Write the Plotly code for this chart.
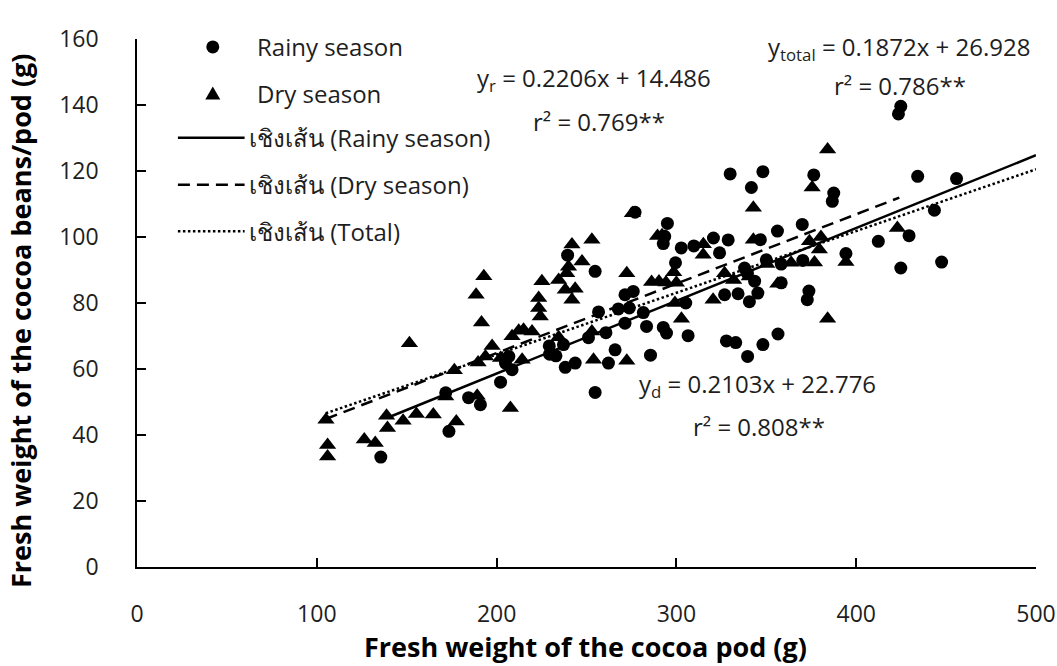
import plotly.graph_objects as go

# Fresh pod weight (g) vs fresh bean weight per pod (g), rainy season
rainy_x = [135.6, 171.7, 173.5, 184.4, 191.0, 202.2, 204.9, 206.8, 208.6, 229.3,
           229.5, 233.0, 237.2, 238.2, 243.7, 239.5, 251.1, 254.8, 254.8, 256.7,
           260.8, 262.2, 265.9, 267.7, 271.4, 276.0, 273.8, 271.4, 277.0, 281.6,
           283.4, 285.6, 292.7, 294.5, 295.0, 293.5, 292.7, 299.5, 302.7, 309.7,
           305.2, 306.5, 320.6, 324.0, 328.8, 326.8, 334.3, 327.8, 333.0, 329.9,
           337.9, 339.5, 339.6, 340.6, 341.7, 343.5, 345.3, 346.7, 348.1, 348.1,
           350.0, 356.5, 356.2, 358.3, 358.3, 370.0, 370.3, 373.7, 372.8, 376.4,
           387.5, 386.7, 394.3, 412.3, 423.5, 424.8, 424.8, 429.4, 434.2, 443.5,
           447.5, 455.8]
rainy_y = [33.3, 52.8, 41.1, 51.3, 49.2, 56.0, 61.8, 63.8, 59.8, 67.0,
           64.5, 64.0, 67.4, 60.5, 61.8, 94.5, 69.5, 89.6, 52.9, 77.3,
           71.0, 61.8, 65.8, 78.2, 82.5, 83.5, 78.5, 73.9, 107.5, 77.1,
           72.9, 64.2, 72.6, 70.9, 104.1, 100.2, 98.0, 92.2, 96.7, 97.3,
           80.0, 70.1, 99.7, 95.2, 99.1, 82.5, 82.8, 68.5, 68.0, 119.1,
           90.6, 89.0, 63.8, 80.4, 115.0, 86.6, 83.0, 99.2, 119.8, 67.4,
           93.1, 70.6, 101.8, 91.8, 86.1, 103.8, 92.9, 83.6, 81.0, 118.8,
           113.3, 110.8, 95.0, 98.7, 137.3, 139.6, 90.6, 100.4, 118.4, 108.1,
           92.4, 117.7]

# Dry season
dry_x = [105.1, 106.0, 106.0, 126.4, 132.5, 138.8, 139.3, 148.0, 151.5, 155.4,
         164.8, 171.7, 176.5, 177.6, 188.6, 189.2, 189.7, 191.6, 192.9, 193.8,
         197.5, 202.2, 207.7, 208.6, 212.3, 215.0, 219.7, 214.2, 223.4, 223.4,
         224.3, 225.2, 234.5, 234.5, 238.2, 239.0, 240.0, 241.9, 241.9, 243.7,
         247.5, 253.0, 253.0, 253.9, 272.4, 272.4, 275.5, 286.2, 290.3, 294.2,
         289.5, 292.0, 298.5, 300.0, 299.2, 302.8, 315.0, 314.9, 320.4, 326.8,
         331.8, 340.5, 342.8, 342.8, 350.3, 356.4, 363.8, 374.0, 375.5, 376.8,
         379.5, 380.4, 384.1, 384.1, 394.3, 422.9]
dry_y = [44.6, 37.0, 33.5, 38.6, 37.6, 45.8, 42.1, 44.3, 67.8, 46.4,
         46.2, 51.7, 59.6, 44.1, 82.5, 51.9, 62.0, 74.1, 88.1, 63.8,
         67.0, 63.3, 48.2, 69.9, 71.6, 71.9, 71.4, 62.8, 81.5, 78.5,
         75.9, 86.6, 69.6, 87.0, 84.0, 89.0, 91.0, 97.7, 81.0, 84.3,
         92.6, 99.2, 71.4, 62.8, 89.0, 62.5, 107.2, 86.4, 86.5, 86.2,
         100.3, 100.5, 89.3, 86.1, 80.0, 75.2, 97.8, 94.6, 81.0, 89.0,
         87.0, 88.0, 108.9, 99.2, 91.8, 85.8, 92.2, 98.7, 115.0, 92.3,
         96.2, 100.0, 126.5, 75.2, 92.4, 102.7]

# Linear fits (slope, intercept, r²) and the x-extent each trend line covers
rainy_fit = (0.2206, 14.486, 0.769)
dry_fit = (0.2103, 22.776, 0.808)
total_fit = (0.1872, 26.928, 0.786)
rainy_fit_x = [140, 500]
dry_fit_x = [105, 424]
total_fit_x = [105, 500]

x_ticks = [0, 100, 200, 300, 400, 500]
y_ticks = [0, 20, 40, 60, 80, 100, 120, 140, 160]

legend_labels = ["Rainy season", "Dry season", "เชิงเส้น (Rainy season)",
                 "เชิงเส้น (Dry season)", "เชิงเส้น (Total)"]
x_title = "Fresh weight of the cocoa pod (g)"
y_title = "Fresh weight of the cocoa beans/pod (g)"

FONT = "Open Sans, Noto Sans, DejaVu Sans, sans-serif"
INK = "#000000"
TXT = "#1e1e1e"
TICK_SIZE = 23
LEGEND_SIZE = 24
EQ_SIZE = 24


def fit_line(fit, xr):
    a, b, _ = fit
    return xr, [a * v + b for v in xr]


fig = go.Figure()

fig.add_trace(go.Scatter(x=rainy_x, y=rainy_y, mode="markers", name=legend_labels[0],
                         marker=dict(symbol="circle", size=13, color=INK, line=dict(width=0))))
fig.add_trace(go.Scatter(x=dry_x, y=dry_y, mode="markers", name=legend_labels[1],
                         marker=dict(symbol="triangle-up", size=15, color=INK, line=dict(width=0))))

lx, ly = fit_line(rainy_fit, rainy_fit_x)
fig.add_trace(go.Scatter(x=lx, y=ly, mode="lines", name=legend_labels[2],
                         line=dict(color=INK, width=2.5)))
lx, ly = fit_line(dry_fit, dry_fit_x)
fig.add_trace(go.Scatter(x=lx, y=ly, mode="lines", name=legend_labels[3],
                         line=dict(color=INK, width=2.5, dash="12px,7px")))
lx, ly = fit_line(total_fit, total_fit_x)
fig.add_trace(go.Scatter(x=lx, y=ly, mode="lines", name=legend_labels[4],
                         line=dict(color=INK, width=2.5, dash="2.5px,2.5px")))

# Hand-drawn legend in the upper-left corner of the plot
shapes = []
annotations = []
rows_y = [0.985, 0.897, 0.813, 0.724, 0.636]
marker_x = 0.0843
line_x0, line_x1 = 0.0455, 0.1197

shapes.append(dict(type="circle", xref="paper", yref="paper", xsizemode="pixel", ysizemode="pixel",
                   xanchor=marker_x, yanchor=rows_y[0], x0=-6.5, x1=6.5, y0=-6.5, y1=6.5,
                   fillcolor=INK, line=dict(width=0)))
shapes.append(dict(type="path", xref="paper", yref="paper", xsizemode="pixel", ysizemode="pixel",
                   xanchor=marker_x, yanchor=rows_y[1], path="M-7.5,-6 L7.5,-6 L0,7 Z",
                   fillcolor=INK, line=dict(width=0)))
for row, dash in zip(rows_y[2:], ["solid", "12px,7px", "2.5px,2.5px"]):
    shapes.append(dict(type="line", xref="paper", yref="paper", x0=line_x0, x1=line_x1,
                       y0=row, y1=row, line=dict(color=INK, width=2.5, dash=dash)))

for i, (label, row) in enumerate(zip(legend_labels, rows_y)):
    annotations.append(dict(xref="paper", yref="paper", x=0.1308 if i < 2 else 0.1220, y=row,
                            text=label, showarrow=False, xanchor="left", yanchor="middle",
                            font=dict(family=FONT, size=LEGEND_SIZE, color=TXT)))

# Regression equations
eq_font = dict(family=FONT, size=EQ_SIZE, color=TXT)
eqs = [
    (254.4, 147.9, "y<sub>r</sub> = %.4fx + %.3f" % rainy_fit[:2]),
    (256.7, 135.0, "r² = %.3f**" % rainy_fit[2]),
    (424.0, 157.3, "y<sub>total</sub> = %.4fx + %.3f" % total_fit[:2]),
    (424.6, 145.8, "r² = %.3f**" % total_fit[2]),
    (345.3, 55.2, "y<sub>d</sub> = %.4fx + %.3f" % dry_fit[:2]),
    (345.9, 42.6, "r² = %.3f**" % dry_fit[2]),
]
for x, y, t in eqs:
    annotations.append(dict(x=x, y=y, text=t, showarrow=False, xanchor="center", yanchor="middle",
                            font=eq_font))

# Axis titles
title_font = dict(family=FONT, size=27, color=INK)
annotations.append(dict(xref="paper", yref="paper", x=0.499, y=-0.150, text="<b>%s</b>" % x_title,
                        showarrow=False, xanchor="center", yanchor="middle", font=title_font))
annotations.append(dict(xref="paper", yref="paper", x=-0.129, y=0.466, text="<b>%s</b>" % y_title,
                        textangle=-90, showarrow=False, xanchor="center", yanchor="middle",
                        font=title_font))

axis_common = dict(showgrid=False, zeroline=False, showline=True, linecolor=INK, linewidth=1.5,
                   ticks="inside", ticklen=9, tickwidth=1.5, tickcolor=INK, mirror=False,
                   ticklabeloverflow="allow", automargin=False,
                   tickfont=dict(family=FONT, size=TICK_SIZE, color=TXT))

fig.update_layout(
    width=1057, height=666,
    margin=dict(l=137, r=21, t=39, b=99),
    paper_bgcolor="white", plot_bgcolor="white",
    showlegend=False,
    shapes=shapes,
    annotations=annotations,
    xaxis=dict(range=[0, 500], tickvals=x_ticks, ticklabelstandoff=26, **axis_common),
    yaxis=dict(range=[0, 160], tickvals=y_ticks, ticklabelstandoff=32, **axis_common),
)

fig.write_html("out.html")
